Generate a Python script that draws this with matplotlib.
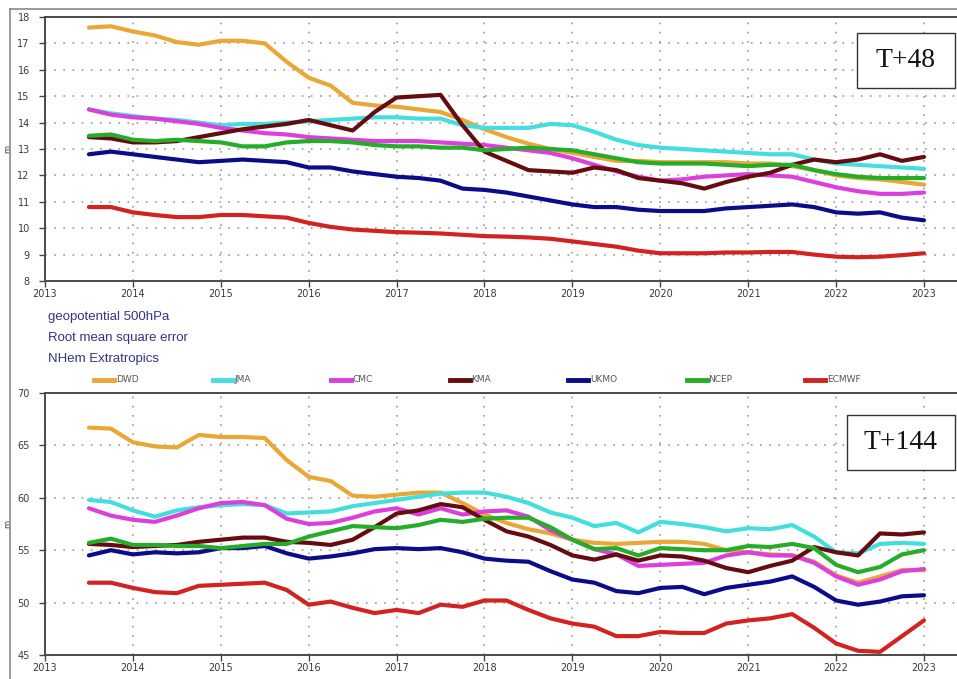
import numpy as np
import matplotlib
matplotlib.use("Agg")
import matplotlib.pyplot as plt
from matplotlib.lines import Line2D
from matplotlib.patches import Rectangle

# Quarterly verification dates (decimal years)
years = np.arange(2013.5, 2023.01, 0.25)

models = ["DWD", "JMA", "CMC", "KMA", "UKMO", "NCEP", "ECMWF"]
colors = ["#E9A737", "#45DEDE", "#DC3FDC", "#650C10", "#0C0C8A", "#25AD2A", "#D32222"]

# 500 hPa geopotential RMSE (m), T+48
dwd_48 = [17.6, 17.65, 17.45, 17.3, 17.05, 16.95, 17.1, 17.1, 17.0, 16.3,
          15.7, 15.4, 14.75, 14.65, 14.6, 14.5, 14.4, 14.1, 13.75, 13.45,
          13.2, 13.0, 12.85, 12.7, 12.55, 12.55, 12.5, 12.5, 12.5, 12.5,
          12.45, 12.45, 12.35, 12.2, 12.0, 11.9, 11.85, 11.75, 11.65]
jma_48 = [14.5, 14.35, 14.25, 14.15, 14.1, 14.0, 13.9, 13.95, 13.95, 14.0,
          14.05, 14.1, 14.15, 14.2, 14.2, 14.15, 14.15, 13.9, 13.8, 13.8,
          13.8, 13.95, 13.9, 13.65, 13.35, 13.15, 13.05, 13.0, 12.95, 12.9,
          12.85, 12.8, 12.8, 12.6, 12.45, 12.4, 12.35, 12.3, 12.25]
cmc_48 = [14.5, 14.3, 14.2, 14.15, 14.05, 13.95, 13.8, 13.7, 13.6, 13.55,
          13.45, 13.4, 13.35, 13.3, 13.3, 13.3, 13.25, 13.2, 13.15, 13.05,
          12.95, 12.85, 12.65, 12.4, 12.15, 11.95, 11.8, 11.85, 11.95, 12.0,
          12.05, 12.0, 11.95, 11.75, 11.55, 11.4, 11.3, 11.3, 11.35]
kma_48 = [13.45, 13.4, 13.25, 13.25, 13.3, 13.45, 13.6, 13.75, 13.85, 13.95,
          14.1, 13.9, 13.7, 14.4, 14.95, 15.0, 15.05, 13.9, 12.9, 12.55,
          12.2, 12.15, 12.1, 12.3, 12.2, 11.9, 11.8, 11.7, 11.5, 11.75,
          11.95, 12.1, 12.4, 12.6, 12.5, 12.6, 12.8, 12.55, 12.7]
ukmo_48 = [12.8, 12.9, 12.8, 12.7, 12.6, 12.5, 12.55, 12.6, 12.55, 12.5,
           12.3, 12.3, 12.15, 12.05, 11.95, 11.9, 11.8, 11.5, 11.45, 11.35,
           11.2, 11.05, 10.9, 10.8, 10.8, 10.7, 10.65, 10.65, 10.65, 10.75,
           10.8, 10.85, 10.9, 10.8, 10.6, 10.55, 10.6, 10.4, 10.3]
ncep_48 = [13.5, 13.55, 13.35, 13.3, 13.35, 13.3, 13.25, 13.1, 13.1, 13.25,
           13.3, 13.3, 13.25, 13.15, 13.1, 13.1, 13.05, 13.05, 12.95, 13.0,
           13.05, 13.0, 12.95, 12.8, 12.65, 12.5, 12.45, 12.45, 12.45, 12.4,
           12.35, 12.4, 12.4, 12.2, 12.05, 11.95, 11.9, 11.9, 11.9]
ecmwf_48 = [10.8, 10.8, 10.6, 10.5, 10.42, 10.42, 10.5, 10.5, 10.45, 10.4,
            10.2, 10.05, 9.95, 9.9, 9.85, 9.83, 9.8, 9.75, 9.7, 9.68,
            9.65, 9.6, 9.5, 9.4, 9.3, 9.15, 9.05, 9.05, 9.05, 9.08,
            9.08, 9.1, 9.1, 9.0, 8.92, 8.9, 8.92, 8.98, 9.05]

# 500 hPa geopotential RMSE (m), T+144
dwd_144 = [66.7, 66.6, 65.3, 64.9, 64.8, 66.0, 65.8, 65.8, 65.7, 63.6,
           62.0, 61.6, 60.2, 60.1, 60.3, 60.5, 60.5, 59.5, 58.4, 57.6,
           57.0, 56.6, 56.0, 55.7, 55.6, 55.7, 55.8, 55.8, 55.6, 55.0,
           54.8, 54.6, 54.5, 53.9, 52.6, 51.9, 52.5, 53.1, 53.1]
jma_144 = [59.8, 59.6, 58.8, 58.2, 58.8, 59.1, 59.3, 59.4, 59.3, 58.5,
           58.6, 58.7, 59.2, 59.5, 59.8, 60.1, 60.4, 60.5, 60.5, 60.1,
           59.5, 58.6, 58.1, 57.3, 57.6, 56.7, 57.7, 57.5, 57.2, 56.8,
           57.1, 57.0, 57.4, 56.3, 54.8, 54.7, 55.6, 55.7, 55.6]
cmc_144 = [59.0, 58.3, 57.9, 57.7, 58.3, 59.0, 59.5, 59.6, 59.3, 58.0,
           57.5, 57.6, 58.1, 58.7, 59.0, 58.4, 59.0, 58.4, 58.7, 58.8,
           58.2, 56.9, 56.0, 55.1, 54.6, 53.5, 53.6, 53.7, 53.8, 54.5,
           54.8, 54.5, 54.5, 53.8, 52.5, 51.7, 52.2, 53.0, 53.2]
kma_144 = [55.6, 55.5, 55.3, 55.4, 55.5, 55.8, 56.0, 56.2, 56.2, 55.8,
           55.7, 55.5, 56.0, 57.2, 58.5, 58.8, 59.4, 59.1, 57.9, 56.8,
           56.3, 55.5, 54.5, 54.1, 54.6, 54.0, 54.5, 54.4, 54.0, 53.3,
           52.9, 53.5, 54.0, 55.3, 54.8, 54.5, 56.6, 56.5, 56.7]
ukmo_144 = [54.5, 55.0, 54.6, 54.8, 54.7, 54.8, 55.2, 55.2, 55.4, 54.7,
            54.2, 54.4, 54.7, 55.1, 55.2, 55.1, 55.2, 54.8, 54.2, 54.0,
            53.9, 53.0, 52.2, 51.9, 51.1, 50.9, 51.4, 51.5, 50.8, 51.4,
            51.7, 52.0, 52.5, 51.5, 50.2, 49.8, 50.1, 50.6, 50.7]
ncep_144 = [55.7, 56.1, 55.5, 55.5, 55.4, 55.4, 55.2, 55.4, 55.6, 55.6,
            56.3, 56.8, 57.3, 57.2, 57.1, 57.4, 57.9, 57.7, 58.0, 58.1,
            58.1, 57.2, 56.0, 55.1, 55.2, 54.5, 55.2, 55.1, 55.0, 55.0,
            55.4, 55.3, 55.6, 55.2, 53.6, 52.9, 53.4, 54.6, 55.0]
ecmwf_144 = [51.9, 51.9, 51.4, 51.0, 50.9, 51.6, 51.7, 51.8, 51.9, 51.2,
             49.8, 50.1, 49.5, 49.0, 49.3, 49.0, 49.8, 49.6, 50.2, 50.2,
             49.3, 48.5, 48.0, 47.7, 46.8, 46.8, 47.2, 47.1, 47.1, 48.0,
             48.3, 48.5, 48.9, 47.6, 46.1, 45.4, 45.3, 46.8, 48.3]

series_48 = [dwd_48, jma_48, cmc_48, kma_48, ukmo_48, ncep_48, ecmwf_48]
series_144 = [dwd_144, jma_144, cmc_144, kma_144, ukmo_144, ncep_144, ecmwf_144]

x_ticks = list(range(2013, 2024))
y_ticks_48 = list(range(8, 19))
y_ticks_144 = list(range(45, 71, 5))

W, H = 957, 679
fig = plt.figure(figsize=(W / 100, H / 100), dpi=100)
fig.patch.set_facecolor("white")

def px_box(left, top, right, bottom):
    return [left / W, 1 - bottom / H, (right - left) / W, (bottom - top) / H]

spine_col = "#4a4a4a"
tick_col = "#444444"

def style_axes(ax, yticks, label_y):
    ax.set_xlim(2013, 2013 + (W - 45) / 87.9)
    ax.set_ylim(yticks[0], yticks[-1])
    ax.set_xticks(x_ticks)
    ax.set_yticks(yticks)
    ax.tick_params(axis="both", labelsize=7, colors=tick_col, length=4,
                   width=1.0, direction="out")
    ax.tick_params(axis="y", pad=7)
    ax.tick_params(axis="x", pad=2)
    for lab in ax.get_xticklabels() + ax.get_yticklabels():
        lab.set_color("#3a3a3a")
    ax.grid(True, color="#9a9a9a", linestyle=(0, (1, 4.5)), linewidth=1.2)
    ax.set_axisbelow(True)
    for s in ("left", "bottom", "top"):
        ax.spines[s].set_color(spine_col)
        ax.spines[s].set_linewidth(1.4)
    ax.spines["right"].set_visible(False)
    ax.set_ylabel("m", fontsize=6, color=tick_col)
    ax.yaxis.set_label_coords(-0.036, label_y)

ax1 = fig.add_axes(px_box(45, 17, W, 281))
ax2 = fig.add_axes(px_box(45, 393, W, 655))

for vals, col in zip(series_48, colors):
    ax1.plot(years, vals, color=col, linewidth=3.0, solid_capstyle="round",
             solid_joinstyle="round")
for vals, col in zip(series_144, colors):
    ax2.plot(years, vals, color=col, linewidth=3.0, solid_capstyle="round",
             solid_joinstyle="round")

style_axes(ax1, y_ticks_48, 0.5)
style_axes(ax2, y_ticks_144, 0.5)

# Lead-time labels in framed boxes
def lead_box(ax, text, x0, y0, x1, y1):
    ax.add_patch(Rectangle((x0, y0), x1 - x0, y1 - y0, transform=ax.transAxes,
                           facecolor="white", edgecolor="#333333",
                           linewidth=1.0, zorder=5, clip_on=False))
    ax.text((x0 + x1) / 2, (y0 + y1) / 2, text, transform=ax.transAxes,
            ha="center", va="center", fontsize=20, family="Liberation Serif",
            color="#111111", zorder=6)

lead_box(ax1, "T+48", 0.890, 0.731, 0.998, 0.939)
lead_box(ax2, "T+144", 0.879, 0.706, 0.998, 0.916)

# Description block
desc = ["geopotential 500hPa", "Root mean square error", "NHem Extratropics"]
for i, line in enumerate(desc):
    fig.text(48 / W, 1 - (317 + 21 * i) / H, line, fontsize=9.5,
             family="Liberation Sans", color="#33338a", ha="left", va="center")

# Legend row
leg_y = 1 - 380 / H
for i, (name, col) in enumerate(zip(models, colors)):
    x0 = (94 + 118.5 * i) / W
    fig.add_artist(Line2D([x0, x0 + 20 / W], [leg_y, leg_y], color=col,
                          linewidth=3.5, transform=fig.transFigure))
    fig.text(x0 + 22 / W, leg_y, name, fontsize=6.5, color="#555555",
             ha="left", va="center")

# Outer frame
fig.add_artist(Line2D([10 / W, 10 / W], [0, 1 - 9 / H], color="#8a8a8a",
                      linewidth=1.2, transform=fig.transFigure))
fig.add_artist(Line2D([10 / W, 1], [1 - 9 / H, 1 - 9 / H], color="#8a8a8a",
                      linewidth=1.2, transform=fig.transFigure))

fig.savefig("out.png", dpi=100, facecolor="white")
